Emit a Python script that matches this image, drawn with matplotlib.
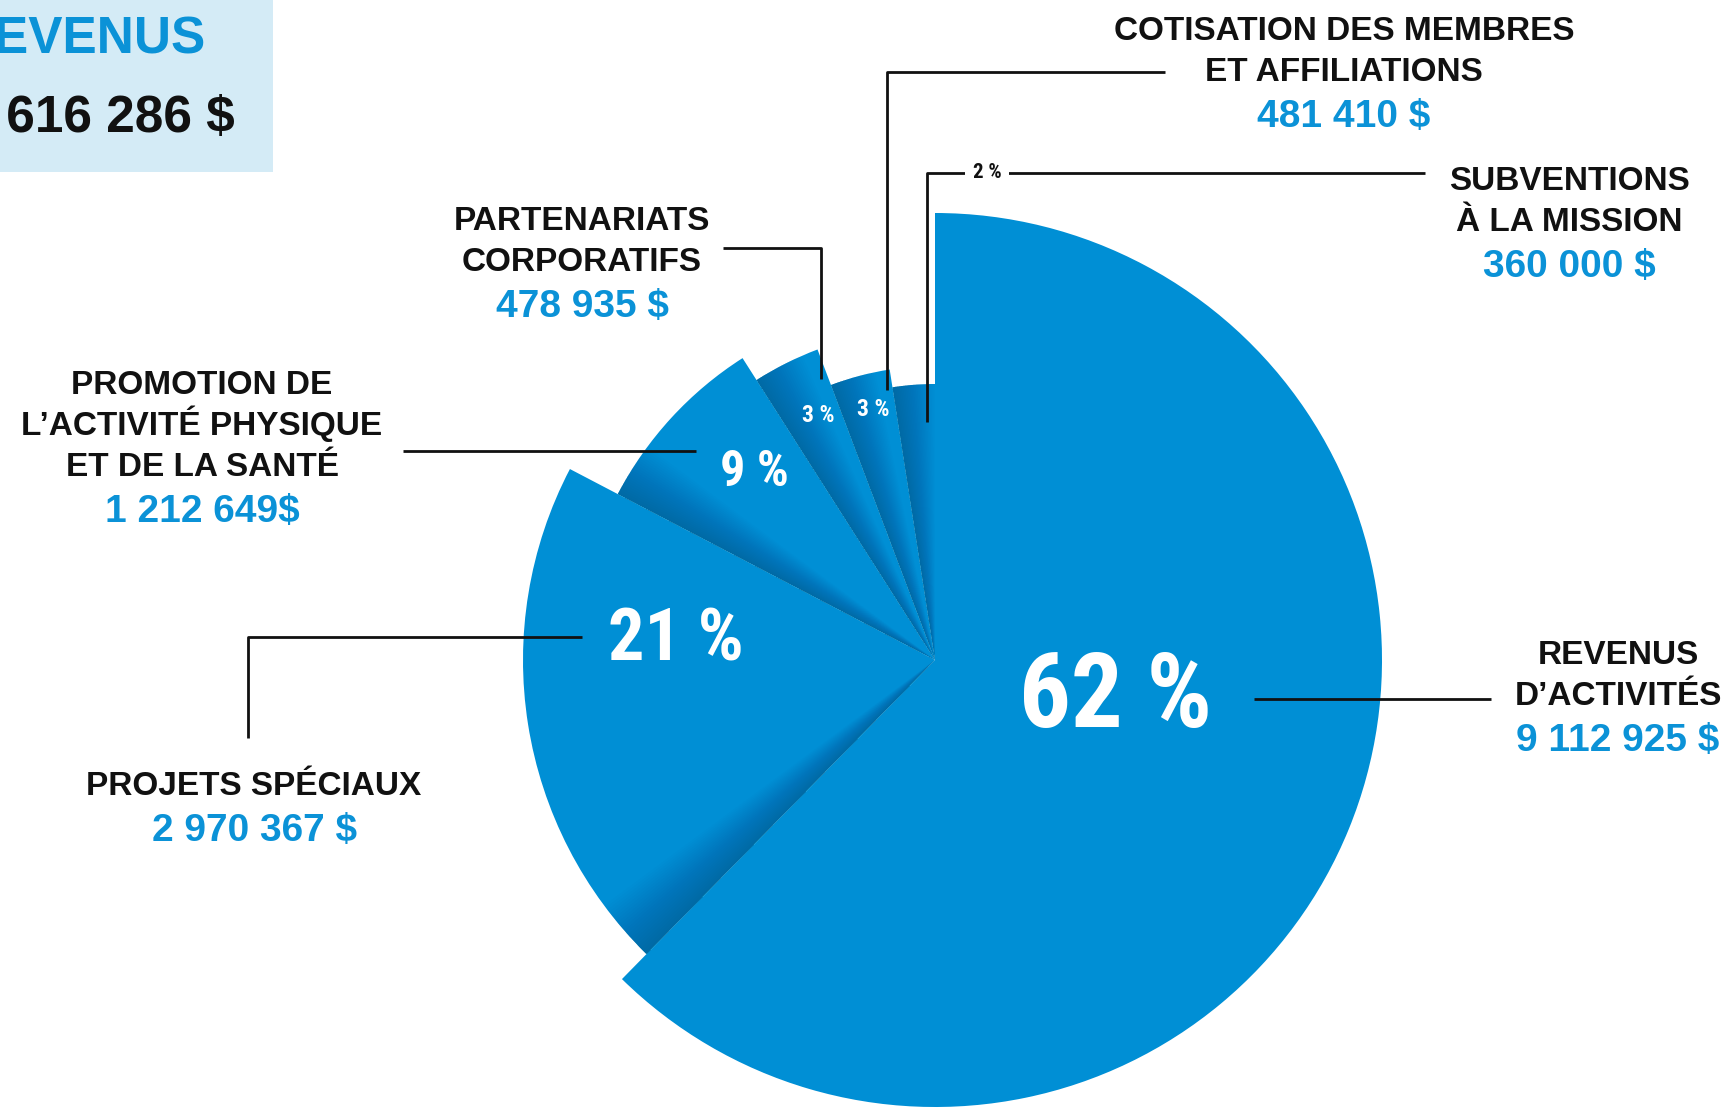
import numpy as np
import matplotlib
matplotlib.use("Agg")
import matplotlib.pyplot as plt
from matplotlib.patches import Wedge, Rectangle
from matplotlib import font_manager

# ---------- DONNÉES ----------
CATEGORIES = [
    ["REVENUS", "D’ACTIVITÉS"],
    ["PROJETS SPÉCIAUX"],
    ["PROMOTION DE", "L’ACTIVITÉ PHYSIQUE", "ET DE LA SANTÉ"],
    ["PARTENARIATS", "CORPORATIFS"],
    ["COTISATION DES MEMBRES", "ET AFFILIATIONS"],
    ["SUBVENTIONS", "À LA MISSION"],
]
AMOUNTS = [9112925, 2970367, 1212649, 478935, 481410, 360000]
AMOUNT_LABELS = ["9 112 925 $", "2 970 367 $", "1 212 649$", "478 935 $", "481 410 $", "360 000 $"]
PCT_LABELS = ["62 %", "21 %", "9 %", "3 %", "3 %", "2 %"]
TITLE = "REVENUS"

# ---------- STYLE ----------
BLUE = "#008fd5"
BLUE_TEXT = "#0b92d7"
LIGHT_BOX = "#d4ebf6"
SHADOW = "#00365e"

W, H = 1732, 1111
CX, CY = 935, 660
RADII = [447, 412, 358, 332, 294, 276]

# ancres des étiquettes (x centre, première ligne de base)
LABEL_ANCHORS = [(1618, 664), (254, 795), (202, 394), (582, 230), (1344, 40), (1569, 190)]
LINE_STEP = 41
AMOUNT_GAP = 46

# lignes de rappel
LEADERS = [
    [(1254, 699), (1491, 699)],
    [(248, 738), (248, 637), (582, 637)],
    [(403, 451), (696, 451)],
    [(723, 248), (821, 248), (821, 379)],
    [(1165, 72), (887, 72), (887, 390)],
    [(1425, 173), (927, 173), (927, 422)],
]

# pourcentages : (x, y centre, taille)
PCT_POS = [(1116, 698, 74), (676, 641, 52), (754, 472, 36), (818, 415, 17), (873, 409, 17), (987, 173, 15)]

available = {f.name for f in font_manager.fontManager.ttflist}
NARROW = next((f for f in ["Liberation Sans Narrow", "Roboto Condensed", "Open Sans Condensed"]
               if f in available), "DejaVu Sans")
SANS = "Liberation Sans" if "Liberation Sans" in available else "DejaVu Sans"


def draw():
    fig = plt.figure(figsize=(W / 100, H / 100), dpi=100)
    fig.patch.set_facecolor("white")
    ax = fig.add_axes([0, 0, 1, 1])
    ax.set_xlim(0, W)
    ax.set_ylim(H, 0)
    ax.axis("off")

    # ---------- camembert à rayons décroissants ----------
    fracs = np.array(AMOUNTS, dtype=float) / sum(AMOUNTS)
    start = 90.0
    for i, (f, r) in enumerate(zip(fracs, RADII)):
        span = f * 360
        end = start - span
        # axe y inversé : angle visuel phi -> angle données -phi
        ax.add_patch(Wedge((CX, CY), r, -start, -end, facecolor=BLUE, edgecolor="none", zorder=2))
        if i > 0:
            w = min(9.0, span)
            n = 24
            for k in range(n):
                ax.add_patch(Wedge((CX, CY), r, -start, -(start - w * (k + 1) / n),
                                   facecolor=SHADOW, alpha=0.017, edgecolor="none", zorder=3))
        start = end

    # ---------- lignes de rappel ----------
    for pts in LEADERS:
        xs, ys = zip(*pts)
        ax.plot(xs, ys, color="#111111", lw=2.0, solid_capstyle="butt", zorder=4)

    # ---------- pourcentages ----------
    for i, (lab, (x, y, fs)) in enumerate(zip(PCT_LABELS, PCT_POS)):
        if i == len(PCT_LABELS) - 1:
            ax.text(x, y, lab, fontsize=fs, family=NARROW, weight="bold", color="#111111",
                    ha="center", va="center", zorder=6,
                    bbox=dict(boxstyle="square,pad=0.35", facecolor="white", edgecolor="none"))
        else:
            ax.text(x, y, lab, fontsize=fs, family=NARROW, weight="bold", color="white",
                    ha="center", va="center", zorder=6)

    # ---------- étiquettes ----------
    for lines, amount, (x, y0) in zip(CATEGORIES, AMOUNT_LABELS, LABEL_ANCHORS):
        y = y0
        for line in lines:
            ax.text(x, y, line, fontsize=24, family=SANS, weight="bold", color="#111111",
                    ha="center", va="baseline", zorder=6)
            y += LINE_STEP
        y += AMOUNT_GAP - LINE_STEP
        ax.text(x, y, amount, fontsize=28, family=SANS, weight="bold", color=BLUE_TEXT,
                ha="center", va="baseline", zorder=6)

    # ---------- total ----------
    ax.add_patch(Rectangle((0, 0), 273, 172, facecolor=LIGHT_BOX, edgecolor="none", zorder=1))
    total = f"{sum(AMOUNTS):,}".replace(",", " ") + " $"
    ax.text(206, 53, TITLE, fontsize=37, family=SANS, weight="bold", color=BLUE_TEXT,
            ha="right", va="baseline", zorder=6)
    ax.text(235, 132, total, fontsize=37, family=SANS, weight="bold", color="#111111",
            ha="right", va="baseline", zorder=6)

    fig.savefig("out.png", dpi=100, facecolor="white")


if __name__ == "__main__":
    draw()
